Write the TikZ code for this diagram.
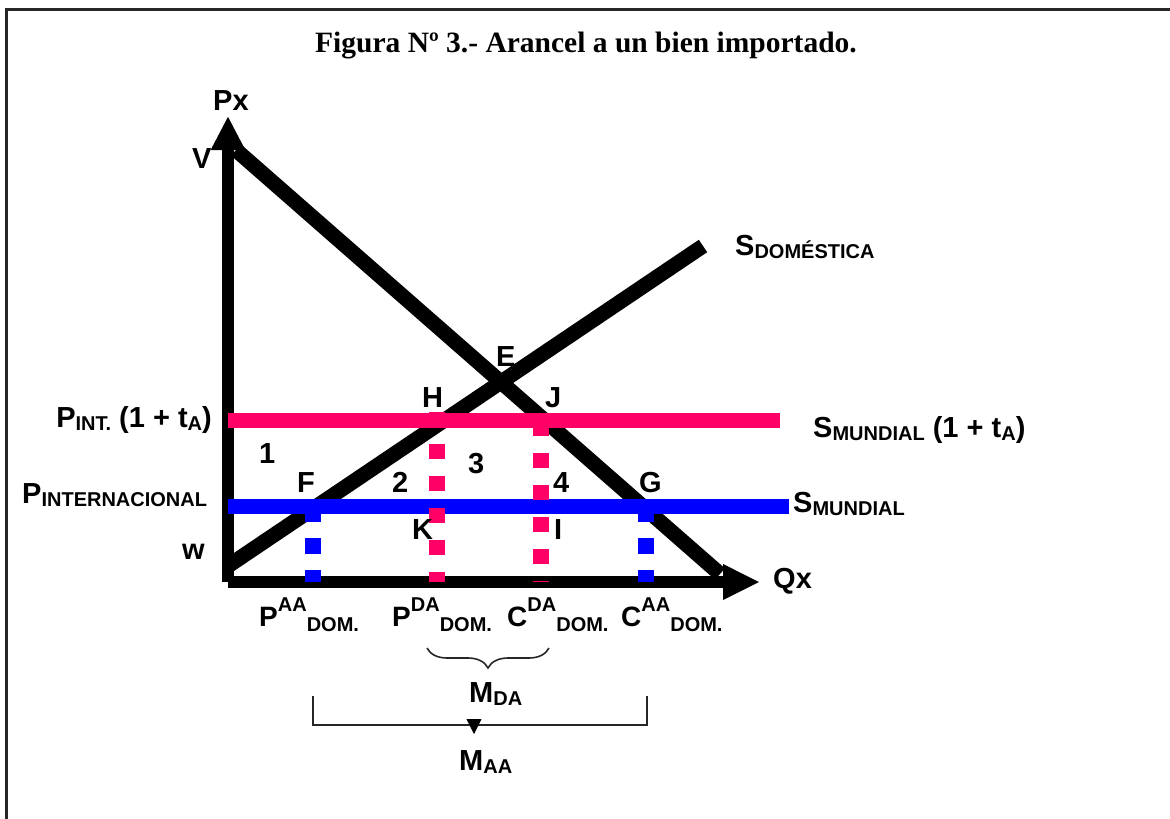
\documentclass[tikz,border=0pt]{standalone}
\usepackage{fontspec}
\setmainfont{Liberation Serif}
\newfontfamily\arialf{Liberation Sans}
\usetikzlibrary{arrows.meta,decorations.pathreplacing}
\definecolor{pinkline}{HTML}{FF0066}
\definecolor{blueline}{HTML}{0000FF}
\newcommand\lsub[1]{\raisebox{-3pt}{\fontsize{20}{20}\selectfont #1}}
\newcommand\bsup[1]{\raisebox{15pt}{\fontsize{20}{20}\selectfont #1}}
\newcommand\bsub[1]{\raisebox{-5pt}{\fontsize{20}{20}\selectfont #1}}
\begin{document}
\begin{tikzpicture}[x=1pt,y=-1pt,
  lbl/.style={font=\arialf\bfseries\fontsize{29}{30}\selectfont, inner sep=0pt, anchor=base west},
  lble/.style={lbl, anchor=base east},
  blbl/.style={font=\arialf\bfseries\fontsize{28}{30}\selectfont, inner sep=0pt, anchor=base west},
  axisline/.style={line width=11.5pt, black},
  curve/.style={line width=15pt, black},
  pinkbar/.style={line width=15pt, pinkline},
  bluebar/.style={line width=15pt, blueline},
  pinkdots/.style={line width=16pt, pinkline, dash pattern=on 15pt off 17pt},
  bluedots/.style={line width=16pt, blueline, dash pattern=on 16pt off 16pt},
  thin/.style={line width=1.6pt, black!85},
  frameline/.style={line width=2.5pt, black!85}
]
\useasboundingbox (0,0) rectangle (1170,819);
% frame
\coordinate (fr1) at (6.5,819);
\coordinate (fr2) at (6.5,9.5);
\coordinate (fr3) at (1170,9.5);
\draw[frameline] (fr1) -- (fr2) -- (fr3);
% title
\node[font=\bfseries\fontsize{29.5}{30}\selectfont, anchor=base, inner sep=0pt] (title) at (586,52) {Figura Nº 3.- Arancel a un bien importado.};
% labels behind lines
\node[lbl] (V) at (192,168) {V};
\node[lbl] (E) at (496,366) {E};
% coordinates
\coordinate (O) at (228,582);
\coordinate (ytop) at (228,116);
\coordinate (xend) at (760,582);
\coordinate (d1) at (236,150);
\coordinate (d2) at (720,574);
\coordinate (s1) at (228,566);
\coordinate (s2) at (703,246);
\coordinate (p1) at (228,420.5);
\coordinate (p2) at (780,420.5);
\coordinate (b1) at (228,506);
\coordinate (b2) at (789,506);
\coordinate (hk1) at (437,412);
\coordinate (hk2) at (437,582);
\coordinate (ji1) at (541,421);
\coordinate (ji2) at (541,582);
\coordinate (f1) at (313,506);
\coordinate (f2) at (313,582);
\coordinate (g1) at (646,506);
\coordinate (g2) at (646,582);
% demand and supply
\draw[curve] (d1) -- (d2);
\draw[curve] (s1) -- (s2);
% axes
\draw[axisline, -{Triangle[length=34pt,width=32pt]}] (O) -- (ytop);
\draw[axisline, -{Triangle[length=37pt,width=33pt]}] (O) -- (xend);
% world supply lines
\draw[pinkbar] (p1) -- (p2);
\draw[bluebar] (b1) -- (b2);
% dotted verticals
\draw[pinkdots] (hk1) -- (hk2);
\draw[pinkdots] (ji1) -- (ji2);
\draw[bluedots] (f1) -- (f2);
\draw[bluedots] (g1) -- (g2);
% labels
\node[lbl] (Px) at (213,110) {Px};
\node[lbl] (Sdom) at (735,255) {S\lsub{DOMÉSTICA}};
\node[lbl] (H) at (422,407) {H};
\node[lbl] (J) at (545,407) {J};
\node[lble] (Pint) at (212,427) {P\lsub{INT.} (1 + t\lsub{A})};
\node[lbl] (Smt) at (813,437) {S\lsub{MUNDIAL} (1 + t\lsub{A})};
\node[lbl] (n1) at (259,463) {1};
\node[lbl] (F) at (297,492) {F};
\node[lbl] (Pinter) at (22,503) {P\lsub{INTERNACIONAL}};
\node[lbl] (n2) at (392,492) {2};
\node[lbl] (n3) at (468,473) {3};
\node[lbl] (n4) at (553,492) {4};
\node[lbl] (G) at (639,492) {G};
\node[lbl] (Sm) at (793,512) {S\lsub{MUNDIAL}};
\node[lbl] (K) at (412,539) {K};
\node[lbl] (I) at (554,539) {I};
\node[lbl] (w) at (182,559) {w};
\node[lbl] (Qx) at (773,588) {Qx};
\node[blbl] (PAA) at (259,626) {P\bsup{AA}\bsub{DOM.}};
\node[blbl] (PDA) at (392,626) {P\bsup{DA}\bsub{DOM.}};
\node[blbl] (CDA) at (507,626) {C\bsup{DA}\bsub{DOM.}};
\node[blbl] (CAA) at (621,626) {C\bsup{AA}\bsub{DOM.}};
% brace for M_DA
\coordinate (br1) at (427,648);
\coordinate (br2) at (549,648);
\draw[thin, decorate, decoration={brace, mirror, amplitude=20pt, aspect=0.5}] (br1) -- (br2);
\node[lbl] (MDA) at (469,702) {M\lsub{DA}};
% bracket for M_AA
\coordinate (bk1) at (313,696);
\coordinate (bk2) at (313,725);
\coordinate (bk3) at (647,725);
\coordinate (bk4) at (647,696);
\draw[thin] (bk1) -- (bk2) -- (bk3) -- (bk4);
\coordinate (am1) at (474,720);
\coordinate (am2) at (474,734);
\draw[line width=0.8pt, -{Triangle[length=15pt,width=15pt]}] (am1) -- (am2);
\node[lbl] (MAA) at (459,770) {M\lsub{AA}};
\end{tikzpicture}
\end{document}
